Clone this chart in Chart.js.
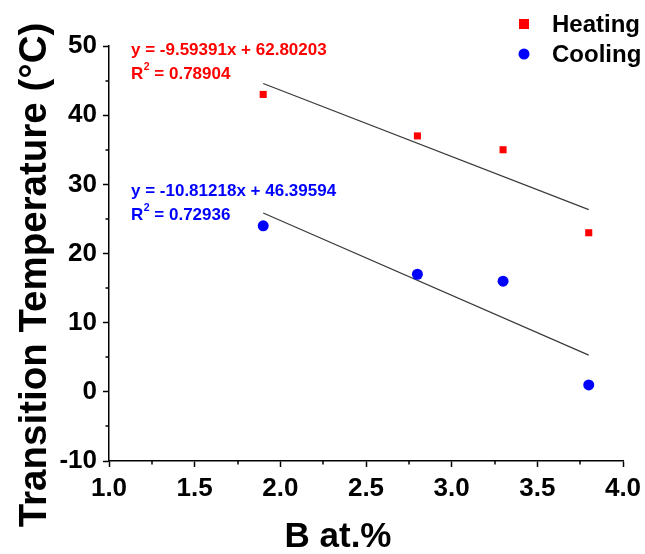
<!DOCTYPE html>
<html>
<head>
<meta charset="utf-8">
<script src="https://cdn.jsdelivr.net/npm/chart.js@4.4.1/dist/chart.umd.min.js"></script>
<style>
  html, body { margin: 0; padding: 0; background: #fff; }
  #wrap { width: 645px; height: 554px; position: relative; }
</style>
</head>
<body>
<div id="wrap"><canvas id="c"></canvas></div>
<script>
// Boron content (at.%) and measured transition temperatures (°C)
const boronContent = [1.9, 2.8, 3.3, 3.8];
const heatingTemps = [43, 37, 35, 23];
const coolingTemps = [24, 17, 16, 1];

// Linear fits: [slope, intercept, R²]
const heatingFit = [-9.59391, 62.80203, 0.78904];
const coolingFit = [-10.81218, 46.39594, 0.72936];

const xTicks = [1.0, 1.5, 2.0, 2.5, 3.0, 3.5, 4.0];
const yTicks = [-10, 0, 10, 20, 30, 40, 50];

const xTitle = 'B at.%';
const yTitle = 'Transition Temperature (°C)';

const FONT = '"Liberation Sans", Arial, Helvetica, sans-serif';
const RED = '#ff0000';
const BLUE = '#0000ff';

function points(xs, ys) { return xs.map((x, i) => ({ x, y: ys[i] })); }
function fitLine(fit) {
  const x0 = boronContent[0], x1 = boronContent[boronContent.length - 1];
  return [{ x: x0, y: fit[0] * x0 + fit[1] }, { x: x1, y: fit[0] * x1 + fit[1] }];
}
function fmtEq(fit) {
  return 'y = ' + fit[0].toFixed(5) + 'x + ' + fit[1].toFixed(5);
}

// Minor tick marks between the labelled ticks
const minorTicks = {
  id: 'minorTicks',
  afterDraw(chart) {
    const ctx = chart.ctx;
    const xs = chart.scales.x, ys = chart.scales.y;
    ctx.save();
    ctx.strokeStyle = '#000';
    ctx.lineWidth = 1.5;
    ctx.beginPath();
    for (let i = 0; i < xTicks.length - 1; i++) {
      const px = Math.round(xs.getPixelForValue((xTicks[i] + xTicks[i + 1]) / 2));
      ctx.moveTo(px, ys.bottom);
      ctx.lineTo(px, ys.bottom + 3.5);
    }
    for (let i = 0; i < yTicks.length - 1; i++) {
      const py = Math.round(ys.getPixelForValue((yTicks[i] + yTicks[i + 1]) / 2));
      ctx.moveTo(xs.left, py);
      ctx.lineTo(xs.left - 3.5, py);
    }
    ctx.stroke();
    ctx.restore();
  }
};

// Axis titles, fit equations and the series legend
const labels = {
  id: 'labels',
  afterDraw(chart) {
    const ctx = chart.ctx;
    ctx.save();
    ctx.textBaseline = 'middle';

    // axis titles
    ctx.fillStyle = '#000';
    ctx.textAlign = 'center';
    ctx.font = 'bold 35px ' + FONT;
    ctx.fillText(xTitle, 338, 537);
    ctx.save();
    ctx.translate(35, 275);
    ctx.rotate(-Math.PI / 2);
    ctx.font = 'bold 38.5px ' + FONT;
    ctx.fillText(yTitle, 0, 0);
    ctx.restore();

    ctx.textAlign = 'left';
    function eqBlock(fit, color, x, y) {
      ctx.fillStyle = color;
      ctx.font = 'bold 17px ' + FONT;
      ctx.fillText(fmtEq(fit), x, y);
      const y2 = y + 24;
      ctx.fillText('R', x, y2);
      const rw = ctx.measureText('R').width;
      ctx.font = 'bold 10.5px ' + FONT;
      ctx.fillText('2', x + rw + 0.5, y2 - 6.5);
      const sw = ctx.measureText('2').width;
      ctx.font = 'bold 17px ' + FONT;
      ctx.fillText(' = ' + fit[2].toFixed(5), x + rw + sw + 0.5, y2);
    }
    eqBlock(heatingFit, RED, 131, 50);
    eqBlock(coolingFit, BLUE, 131, 191);

    // legend
    const ds = chart.data.datasets;
    const rows = [[ds[0], 24], [ds[1], 54]];
    rows.forEach(([d, y]) => {
      ctx.fillStyle = d.backgroundColor;
      if (d.pointStyle === 'rect') {
        ctx.fillRect(519, y - 5, 10, 10);
      } else {
        ctx.beginPath();
        ctx.arc(524, y, 5.5, 0, Math.PI * 2);
        ctx.fill();
      }
      ctx.fillStyle = '#000';
      ctx.font = 'bold 24px ' + FONT;
      ctx.fillText(d.label, 552, y + 1);
    });
    ctx.restore();
  }
};

new Chart(document.getElementById('c'), {
  type: 'scatter',
  data: {
    datasets: [
      {
        label: 'Heating',
        data: points(boronContent, heatingTemps),
        pointStyle: 'rect',
        pointRadius: 5,
        backgroundColor: RED,
        borderColor: RED,
        borderWidth: 0
      },
      {
        label: 'Cooling',
        data: points(boronContent, coolingTemps),
        pointStyle: 'circle',
        pointRadius: 5.5,
        backgroundColor: BLUE,
        borderColor: BLUE,
        borderWidth: 0
      },
      {
        label: 'Heating fit',
        data: fitLine(heatingFit),
        showLine: true,
        pointRadius: 0,
        borderColor: '#3a3a3a',
        borderWidth: 1.2
      },
      {
        label: 'Cooling fit',
        data: fitLine(coolingFit),
        showLine: true,
        pointRadius: 0,
        borderColor: '#3a3a3a',
        borderWidth: 1.2
      }
    ]
  },
  options: {
    responsive: true,
    maintainAspectRatio: false,
    animation: false,
    events: [],
    layout: { padding: { top: 46, right: 22, left: 0, bottom: 0 } },
    plugins: { legend: { display: false }, tooltip: { enabled: false } },
    scales: {
      x: {
        type: 'linear',
        min: 1, max: 4,
        afterFit(s) { s.height = 93; s.paddingLeft = 0; s.paddingRight = 0; },
        afterBuildTicks(s) { s.ticks = xTicks.map(v => ({ value: v })); },
        ticks: {
          color: '#000',
          font: { family: FONT, size: 26, weight: 'bold' },
          padding: 6,
          maxRotation: 0,
          callback: v => Number(v).toFixed(1)
        },
        grid: { drawOnChartArea: false, tickLength: 6, tickWidth: 1.5, tickColor: '#000' },
        border: { display: true, color: '#000', width: 1.5 },
        title: { display: false }
      },
      y: {
        type: 'linear',
        min: -10, max: 50,
        afterFit(s) { s.width = 109; s.paddingTop = 0; s.paddingBottom = 0; },
        afterBuildTicks(s) { s.ticks = yTicks.map(v => ({ value: v })); },
        ticks: {
          color: '#000',
          font: { family: FONT, size: 26, weight: 'bold' },
          padding: 6
        },
        grid: { drawOnChartArea: false, tickLength: 6, tickWidth: 1.5, tickColor: '#000' },
        border: { display: true, color: '#000', width: 1.5 },
        title: { display: false }
      }
    }
  },
  plugins: [minorTicks, labels]
});
</script>
</body>
</html>
